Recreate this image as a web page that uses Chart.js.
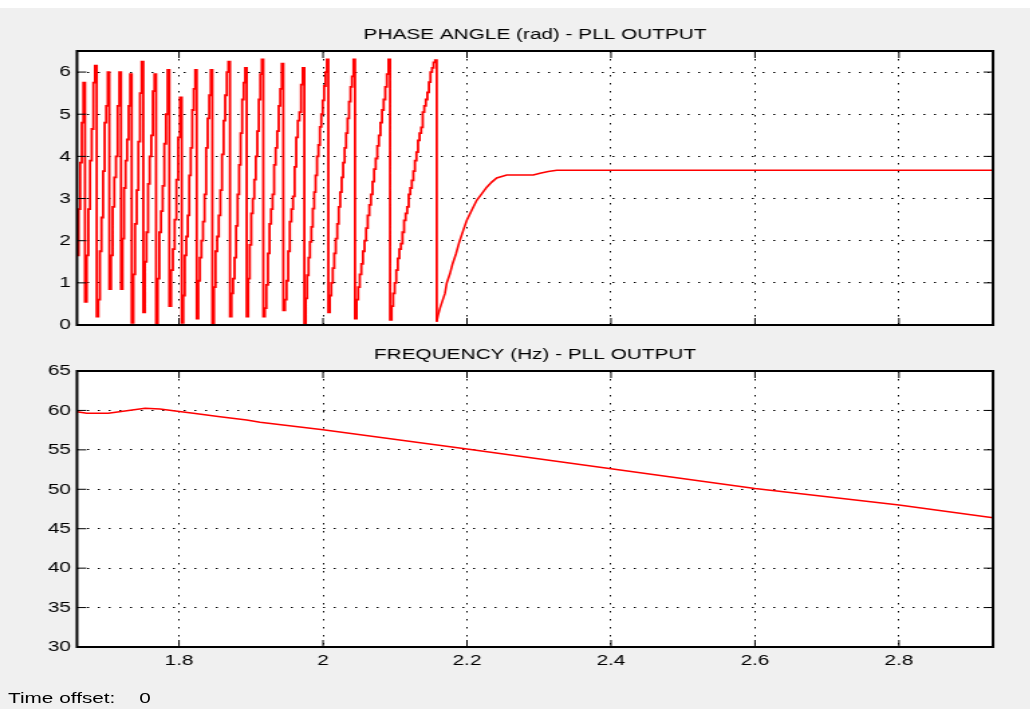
<!DOCTYPE html>
<html>
<head>
<meta charset="utf-8">
<script src="https://cdn.jsdelivr.net/npm/chart.js@4/dist/chart.umd.min.js"></script>
<style>
  html, body { margin: 0; padding: 0; background: #f0f0f0; overflow: hidden; }
  #page { position: relative; width: 1030px; height: 709px; background: #f0f0f0; overflow: hidden; }
  #topStrip { position: absolute; left: 0; top: 0; width: 1030px; height: 8px; background: #ffffff; }
  /* scope window is rendered narrow and stretched horizontally */
  #stretch { position: absolute; left: 0; top: 0; width: 769px; height: 709px;
             transform: scaleX(1.34); transform-origin: 0 0; }
  #stretch canvas { position: absolute; left: 0; top: 0; }
  .offset { position: absolute; top: 690px; font: 15.5px "Liberation Sans", Arial, sans-serif;
            line-height: 15.5px; color: #000; white-space: nowrap; }
</style>
</head>
<body>
<div id="page">
  <div id="topStrip"></div>
  <div id="stretch">
    <canvas id="phase" width="769" height="709"></canvas>
    <canvas id="freq" width="769" height="709"></canvas>
    <div class="offset" style="left:6px">Time offset:</div>
    <div class="offset" style="left:104px">0</div>
  </div>
</div>
<script>
// ---- time axis ----
const T_MIN = 1.6583;
const T_MAX = 2.9306;
const T_STEP = 0.2;

// ---- phase angle (rad): wrap instants and sampled staircase of each ramp ----
const PHASE_WRAP_TIMES = [1.6583, 1.6694, 1.6857, 1.7032, 1.7194, 1.7343, 1.7504, 1.7681,
  1.7865, 1.8038, 1.8246, 1.8463, 1.8708, 1.8940, 1.9171, 1.9449, 1.9740, 2.0074,
  2.0444, 2.0931, 2.1579];
const PHASE_TOOTH_STEPS = [
  [1.65, 2.75, 3.85, 4.8, 5.75],
  [0.55, 1.65, 2.75, 3.9, 4.65, 5.75, 6.15],
  [0.2, 0.6, 1.75, 2.55, 3.65, 4.8, 5.2, 6.0],
  [0.85, 1.65, 2.8, 3.5, 4.0, 5.2, 6.0],
  [0.85, 2.05, 3.25, 3.9, 4.4, 5.2, 5.95],
  [0.05, 1.2, 2.4, 3.2, 4.35, 5.5, 6.25],
  [0.3, 1.5, 2.2, 3.35, 4.0, 4.5, 5.55, 5.95],
  [0.0, 1.1, 2.2, 2.7, 3.3, 4.3, 5.0, 6.05],
  [0.45, 1.3, 1.8, 2.5, 3.45, 4.45, 5.4],
  [0.05, 0.7, 1.65, 2.1, 2.6, 3.55, 4.2, 5.1, 5.6, 6.05],
  [0.15, 1.05, 1.6, 2.0, 2.45, 3.1, 4.2, 4.9, 5.45, 6.05],
  [0.0, 0.9, 1.75, 2.1, 2.6, 3.2, 4.05, 4.85, 5.45, 6.0, 6.25],
  [0.2, 0.75, 1.1, 1.6, 2.35, 3.1, 3.8, 4.55, 5.35, 5.75, 6.1],
  [0.2, 1.1, 1.9, 2.65, 3.0, 3.45, 4.0, 4.6, 5.35, 5.95, 6.3],
  [0.2, 0.4, 0.95, 1.7, 2.4, 2.75, 3.1, 3.8, 4.2, 4.6, 5.2, 5.6, 6.2],
  [0.35, 0.6, 1.05, 1.75, 2.45, 2.75, 3.05, 3.75, 4.45, 4.85, 5.05, 5.7, 6.1],
  [0.0, 0.63, 1.18, 1.6, 1.97, 2.33, 2.76, 3.15, 3.55, 4.0, 4.27, 4.7, 5.0, 5.33, 5.67, 6.0, 6.3],
  [0.3, 0.7, 1.0, 1.35, 1.7, 2.05, 2.4, 2.8, 3.15, 3.5, 3.85, 4.2, 4.55, 4.9, 5.3, 5.65, 5.9, 6.3],
  [0.15, 0.6, 0.9, 1.2, 1.45, 1.75, 2.0, 2.3, 2.6, 2.85, 3.1, 3.4, 3.7, 3.95, 4.25, 4.5, 4.8,
   5.1, 5.35, 5.65, 5.95, 6.3],
  [0.12, 0.45, 0.75, 1.0, 1.3, 1.58, 1.8, 1.93, 2.2, 2.48, 2.65, 2.8, 3.1, 3.25, 3.43, 3.65,
   3.9, 4.1, 4.38, 4.55, 4.69, 5.05, 5.2, 5.35, 5.52, 5.76, 6.0, 6.1, 6.23, 6.28]
];
// after lock: phase settles
const PHASE_SETTLE_TIMES = [2.1579, 2.1600, 2.1625, 2.1662, 2.1694, 2.1718, 2.1764, 2.1801,
  2.1847, 2.1893, 2.1949, 2.1996, 2.2065, 2.2135, 2.2204, 2.2274, 2.2343, 2.2413, 2.2551,
  2.2921, 2.3014, 2.3129, 2.3246, 2.9306];
const PHASE_SETTLE_VALUES = [0.08, 0.25, 0.40, 0.59, 0.75, 0.99, 1.22, 1.46, 1.69, 1.97, 2.25,
  2.48, 2.72, 2.96, 3.11, 3.27, 3.39, 3.49, 3.56, 3.56, 3.60, 3.64, 3.67, 3.67];
const PHASE_TICKS = { min: 0, max: 6.5, step: 1 };

// ---- frequency (Hz) ----
const FREQ_TIMES = [1.6583, 1.6718, 1.7018, 1.7274, 1.7528, 1.7736, 1.7921, 1.8199, 1.8569,
  1.8940, 1.9125, 2.0, 2.2, 2.4, 2.6, 2.8, 2.9306];
const FREQ_VALUES = [59.84, 59.63, 59.63, 59.96, 60.27, 60.18, 59.96, 59.63, 59.20, 58.78,
  58.49, 57.55, 55.1, 52.6, 50.1, 48.0, 46.4];
const FREQ_TICKS = { min: 30, max: 65, step: 5 };

const TITLE_PHASE = 'PHASE ANGLE (rad) - PLL OUTPUT';
const TITLE_FREQ = 'FREQUENCY (Hz) - PLL OUTPUT';

// ---- build point lists ----
const phaseRampPoints = [];
PHASE_TOOTH_STEPS.forEach((steps, i) => {
  const t0 = PHASE_WRAP_TIMES[i], t1 = PHASE_WRAP_TIMES[i + 1];
  const dt = (t1 - t0) / steps.length;
  steps.forEach((v, k) => phaseRampPoints.push({ x: t0 + k * dt, y: v }));
});
// the last ramp holds until the wrap, where the settling trace begins
phaseRampPoints.push({ x: PHASE_SETTLE_TIMES[0], y: PHASE_SETTLE_VALUES[0] });
const phaseSettlePoints = PHASE_SETTLE_TIMES.map((t, i) => ({ x: t, y: PHASE_SETTLE_VALUES[i] }));

const freqPoints = FREQ_TIMES.map((t, i) => ({ x: t, y: FREQ_VALUES[i] }));

// ---- shared look ----
const FONT = '"Liberation Sans", Arial, sans-serif';
const FONT_SIZE = 15.5;
Chart.defaults.font.family = FONT;
Chart.defaults.font.size = FONT_SIZE;
Chart.defaults.color = '#000';

const PLOT_LEFT = 57.46, PLOT_RIGHT = 741.04, CANVAS_W = 769, CANVAS_H = 709;
const Y_AXIS_W = 45;
const TICK_IN = 7;

// white axes face, inward tick marks, box and centred title
const axesBox = {
  id: 'axesBox',
  beforeDraw(chart) {
    const { ctx, chartArea: a } = chart;
    ctx.save();
    ctx.fillStyle = '#ffffff';
    ctx.fillRect(a.left, a.top, a.width, a.height);
    ctx.restore();
  },
  afterDraw(chart, args, opts) {
    const { ctx, chartArea: a } = chart;
    const xs = chart.scales.x, ys = chart.scales.y;
    ctx.save();
    ctx.strokeStyle = '#000';
    ctx.lineWidth = 1;
    ctx.beginPath();
    xs.ticks.forEach(t => {
      const px = xs.getPixelForValue(t.value);
      ctx.moveTo(px, a.bottom); ctx.lineTo(px, a.bottom - TICK_IN);
      ctx.moveTo(px, a.top); ctx.lineTo(px, a.top + TICK_IN);
    });
    ys.ticks.forEach(t => {
      const py = ys.getPixelForValue(t.value);
      ctx.moveTo(a.left, py); ctx.lineTo(a.left + TICK_IN, py);
      ctx.moveTo(a.right, py); ctx.lineTo(a.right - TICK_IN, py);
    });
    ctx.stroke();
    ctx.lineWidth = 2;
    ctx.strokeRect(a.left, a.top, a.width, a.height);
    ctx.fillStyle = '#000';
    ctx.font = FONT_SIZE + 'px ' + FONT;
    ctx.textAlign = 'center';
    ctx.textBaseline = 'middle';
    ctx.fillText(opts.text, (a.left + a.right) / 2, a.top - 16.5);
    ctx.restore();
  }
};

const trimLabel = v => String(Number(v.toFixed(3)));

function makeChart(id, datasets, yt, title, plotTop, plotBottom, showXLabels) {
  const xAxisH = showXLabels ? 30 : 0;
  return new Chart(document.getElementById(id), {
    type: 'line',
    data: { datasets: datasets.map(d => Object.assign({
      borderColor: '#ff0000', pointRadius: 0, fill: false, tension: 0
    }, d)) },
    options: {
      responsive: false,
      devicePixelRatio: 1,
      animation: false,
      events: [],
      layout: { padding: {
        left: PLOT_LEFT - Y_AXIS_W,
        right: CANVAS_W - PLOT_RIGHT,
        top: plotTop,
        bottom: CANVAS_H - plotBottom - xAxisH
      } },
      plugins: { legend: { display: false }, tooltip: { enabled: false }, axesBox: { text: title } },
      scales: {
        x: {
          type: 'linear', min: T_MIN, max: T_MAX,
          afterFit: s => { s.height = xAxisH; },
          ticks: { stepSize: T_STEP, includeBounds: false, display: showXLabels,
                   maxRotation: 0, autoSkip: false, padding: 4, color: '#000',
                   callback: v => trimLabel(v) },
          grid: { color: '#000', lineWidth: 1, drawTicks: false },
          border: { display: false, dash: [1.5, 6.5] }
        },
        y: {
          type: 'linear', min: yt.min, max: yt.max,
          afterFit: s => { s.width = Y_AXIS_W; },
          ticks: { stepSize: yt.step, includeBounds: false, padding: 4.5, color: '#000',
                   autoSkip: false, callback: v => trimLabel(v) },
          grid: { color: '#000', lineWidth: 1, drawTicks: false },
          border: { display: false, dash: [1.5, 6.5] }
        }
      }
    },
    plugins: [axesBox]
  });
}

makeChart('phase', [
  { data: phaseRampPoints, borderWidth: 1.8, stepped: true },
  { data: phaseSettlePoints, borderWidth: 1.6 }
], PHASE_TICKS, TITLE_PHASE, 51, 325, false);
makeChart('freq', [
  { data: freqPoints, borderWidth: 1.5 }
], FREQ_TICKS, TITLE_FREQ, 371, 647, true);
</script>
</body>
</html>
